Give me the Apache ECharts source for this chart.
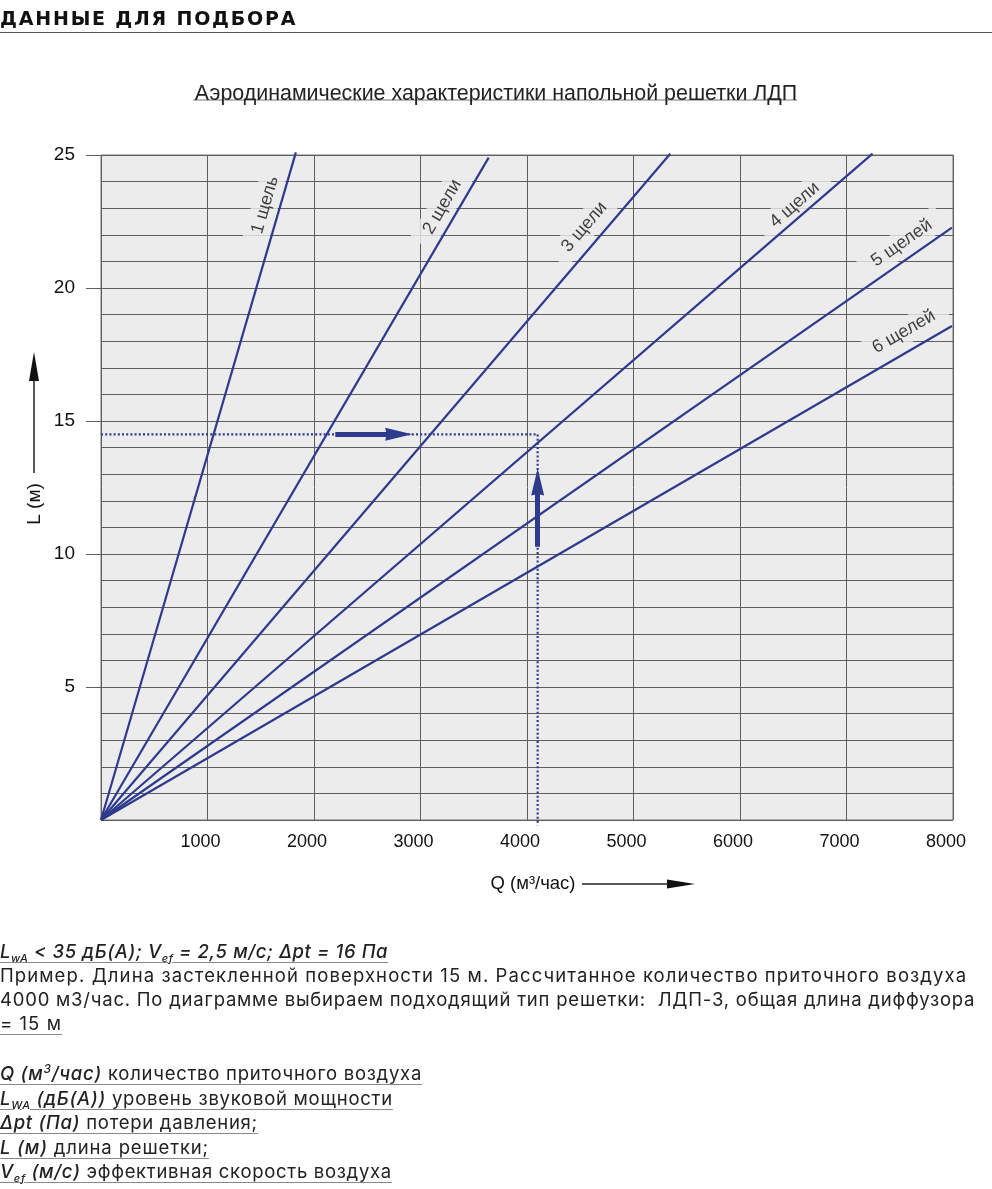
<!DOCTYPE html>
<html>
<head>
<meta charset="utf-8">
<script src="https://cdn.jsdelivr.net/npm/echarts/dist/echarts.min.js"></script>
<style>
html, body { margin: 0; padding: 0; background: #fff; }
#page { position: relative; width: 992px; height: 1189px; overflow: hidden; }
#chart { position: absolute; left: 0; top: 0; width: 992px; height: 1189px; }
.head { position: absolute; left: 0; top: 7px; font-family: 'DejaVu Sans'; font-weight: bold; font-size: 19px; color: #111; letter-spacing: 1.8px; }
.headline { position: absolute; left: 0; top: 32px; width: 992px; border-top: 1.5px solid #555; }
.notes { position: absolute; left: 0; font-family: Inter, 'Noto Sans', sans-serif; font-size: 18.5px; color: #222; line-height: 24px; white-space: nowrap; }
.notes > div { display: block; }
.fit { display: inline-block; }
.u { text-decoration: underline; text-decoration-color: #888; text-underline-offset: 4px; text-decoration-thickness: 1px; }
.it { font-style: italic; font-weight: 500; }
sub { font-size: 11px; vertical-align: -4px; line-height: 0; }
sup { font-size: 12px; vertical-align: 7px; line-height: 0; }
</style>
</head>
<body>
<div id="page">
  <div id="chart"></div>
  <div class="head">ДАННЫЕ ДЛЯ ПОДБОРА</div>
  <div class="headline"></div>
  <div class="notes" style="top:939px">
    <div><span class="fit u it" data-w="388">L<sub>wA</sub> &lt; 35 дБ(А); V<sub>ef</sub> = 2,5 м/с; Δpt = 16 Па</span></div>
    <div><span class="fit" data-w="967">Пример. Длина застекленной поверхности 15 м. Рассчитанное количество приточного воздуха</span></div>
    <div><span class="fit" data-w="975">4000 м3/час. По диаграмме выбираем подходящий тип решетки:&nbsp; ЛДП-3, общая длина диффузора</span></div>
    <div><span class="fit u" data-w="62">= 15 м</span></div>
  </div>
  <div class="notes" style="top:1061px; line-height:24.5px">
    <div><span class="fit u" data-w="422"><span class="it">Q (м<sup>3</sup>/час)</span> количество приточного воздуха</span></div>
    <div><span class="fit u" data-w="393"><span class="it">L<sub>WA</sub> (дБ(А))</span> уровень звуковой мощности</span></div>
    <div><span class="fit u" data-w="258"><span class="it">Δpt (Па)</span> потери давления;</span></div>
    <div><span class="fit u" data-w="209"><span class="it">L (м)</span> длина решетки;</span></div>
    <div><span class="fit u" data-w="392"><span class="it">V<sub>ef</sub> (м/с)</span> эффективная скорость воздуха</span></div>
  </div>
</div>
<script>
// подгоняем строки пояснений по ширине, как в оригинале
document.querySelectorAll('.fit').forEach(function (el) {
    var target = +el.getAttribute('data-w');
    var n = el.textContent.length;
    var w = el.getBoundingClientRect().width;
    el.style.letterSpacing = ((target - w) / n).toFixed(2) + 'px';
});

var chart = echarts.init(document.getElementById('chart'));

var font = 'Liberation Sans';
var blue = '#2e3a8c';

// прямые для каждого числа щелей, из нуля до конца (Q в м3/час, L в м)
var slotNames = ['1 щель', '2 щели', '3 щели', '4 щели', '5 щелей', '6 щелей'];
var endQ = [1830, 3640, 5345, 7245, 7990, 7990];
var endL = [25.1, 24.9, 25.05, 25.05, 22.27, 18.57];

// подписи прямых
var labelQ = [1541, 3205, 4539, 6513, 7519, 7538];
var labelL = [23.12, 23.05, 22.29, 23.12, 21.69, 18.35];
var labelAngle = [74, 60, 49.5, 41, 35, 30];

// оси
var xLabels = [1000, 2000, 3000, 4000, 5000, 6000, 7000, 8000];
var yLabels = [5, 10, 15, 20, 25];

// пример подбора
var exampleQ = 4100;
var exampleL = 14.5;
var shaftQ = [2200, 2700];   // стрелка вправо
var headQ = 2795;
var shaftL = [10.27, 12.3];  // стрелка вверх
var headL = 12.71;

var arrowPath = 'path://M5,0 L10,27 L5,25.5 L0,27 Z';

var series = [];

slotNames.forEach(function (name, i) {
    series.push({
        name: name,
        type: 'line',
        data: [[0, 0], [endQ[i], endL[i]]],
        symbol: 'none',
        clip: false,
        silent: true,
        z: 4,
        lineStyle: { color: blue, width: 2.2 }
    });
});

series.push({
    name: 'подписи',
    type: 'scatter',
    symbolSize: 0,
    silent: true,
    z: 2,
    data: slotNames.map(function (name, i) {
        return {
            name: name,
            value: [labelQ[i], labelL[i]],
            label: { rotate: labelAngle[i] }
        };
    }),
    label: {
        show: true,
        position: 'inside',
        formatter: '{b}',
        fontFamily: font,
        fontSize: 18,
        color: '#111',
        backgroundColor: '#ececec',
        padding: [4, 13]
    }
});

series.push({
    name: 'пример',
    type: 'line',
    data: [[0, exampleL], [exampleQ, exampleL], [exampleQ, -0.2]],
    symbol: 'none',
    clip: false,
    silent: true,
    z: 5,
    lineStyle: { color: blue, width: 2.2, type: [2, 2.2] }
});

// стержни стрелок
series.push({
    type: 'lines',
    coordinateSystem: 'cartesian2d',
    silent: true,
    z: 6,
    lineStyle: { color: blue, width: 5, opacity: 1 },
    data: [
        { coords: [[shaftQ[0], exampleL], [shaftQ[1], exampleL]] },
        { coords: [[exampleQ, shaftL[0]], [exampleQ, shaftL[1]]] }
    ]
});
// наконечники
series.push({
    type: 'scatter',
    silent: true,
    z: 6,
    symbol: arrowPath,
    symbolSize: [13, 27],
    itemStyle: { color: blue, opacity: 1 },
    data: [
        { value: [headQ, exampleL], symbolRotate: -90 },
        { value: [exampleQ, headL], symbolRotate: 0 }
    ]
});

var option = {
    animation: false,
    title: {
        text: 'Аэродинамические характеристики напольной решетки ЛДП',
        left: 'center',
        top: 79,
        textStyle: { fontFamily: font, fontSize: 21.4, fontWeight: 'normal', color: '#222' }
    },
    grid: {
        left: 101, right: 39, top: 155, bottom: 369,
        show: true,
        backgroundColor: '#ececec',
        borderColor: '#777',
        borderWidth: 1
    },
    xAxis: {
        type: 'value',
        min: 0, max: 8000, interval: 1000,
        axisLine: { show: false },
        axisTick: { show: false },
        splitLine: { show: true, lineStyle: { color: '#5e5e5e', width: 1 } },
        axisLabel: {
            customValues: xLabels,
            formatter: function (v) { return String(v); },
            margin: 13,
            padding: [0, 14, 0, 0],
            fontFamily: font, fontSize: 18, color: '#111'
        }
    },
    yAxis: [
        {
            // мелкая сетка через 1 м
            type: 'value',
            min: 0, max: 25, interval: 1,
            axisLine: { show: false },
            axisTick: { show: false },
            axisLabel: { show: false },
            splitLine: { show: true, lineStyle: { color: '#5e5e5e', width: 1 } }
        },
        {
            type: 'value',
            position: 'left',
            min: 0, max: 25, interval: 5,
            axisLine: { show: false },
            axisTick: { show: true, customValues: yLabels, length: 15, lineStyle: { color: '#5e5e5e' } },
            splitLine: { show: false },
            axisLabel: {
                customValues: yLabels,
                margin: 26,
                fontFamily: font, fontSize: 19, color: '#111'
            }
        }
    ],
    graphic: [
        { type: 'line', shape: { x1: 193, y1: 100, x2: 797, y2: 100 }, style: { stroke: '#777', lineWidth: 1 } },
        // ось L
        { type: 'text', x: 35, y: 504, rotation: Math.PI / 2,
          style: { text: 'L (м)', font: '19px "Liberation Sans"', fill: '#111', align: 'center', verticalAlign: 'middle' } },
        { type: 'line', shape: { x1: 34, y1: 473, x2: 34, y2: 378 }, style: { stroke: '#222', lineWidth: 1.5 } },
        { type: 'polygon', shape: { points: [[34, 352], [29, 381], [39, 381]] }, style: { fill: '#111' } },
        // ось Q
        { type: 'text', x: 533, y: 884,
          style: { text: 'Q (м³/час)', font: '18.5px "Liberation Sans"', fill: '#111', align: 'center', verticalAlign: 'middle' } },
        { type: 'line', shape: { x1: 582, y1: 884, x2: 670, y2: 884 }, style: { stroke: '#222', lineWidth: 1.5 } },
        { type: 'polygon', shape: { points: [[695, 884], [667, 879.5], [667, 888.5]] }, style: { fill: '#111' } }
    ],
    series: series
};

chart.setOption(option);
</script>
</body>
</html>
